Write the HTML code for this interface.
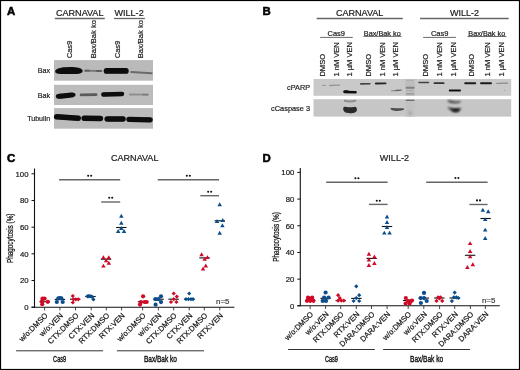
<!DOCTYPE html>
<html><head><meta charset="utf-8"><style>
html,body{margin:0;padding:0;background:#fff;}
text{stroke-width:0.2px;}
svg{display:block;font-family:"Liberation Sans", sans-serif;will-change:transform;}
</style></head><body>
<svg width="520" height="370" viewBox="0 0 520 370">
<defs><filter id="b0" filterUnits="userSpaceOnUse" x="0" y="0" width="520" height="370"><feGaussianBlur stdDeviation="0.0"/></filter><filter id="b1" filterUnits="userSpaceOnUse" x="0" y="0" width="520" height="370"><feGaussianBlur stdDeviation="0.1"/></filter><filter id="b2" filterUnits="userSpaceOnUse" x="0" y="0" width="520" height="370"><feGaussianBlur stdDeviation="0.2"/></filter><filter id="b3" filterUnits="userSpaceOnUse" x="0" y="0" width="520" height="370"><feGaussianBlur stdDeviation="0.3"/></filter><filter id="b4" filterUnits="userSpaceOnUse" x="0" y="0" width="520" height="370"><feGaussianBlur stdDeviation="0.4"/></filter><filter id="b5" filterUnits="userSpaceOnUse" x="0" y="0" width="520" height="370"><feGaussianBlur stdDeviation="0.5"/></filter><filter id="b6" filterUnits="userSpaceOnUse" x="0" y="0" width="520" height="370"><feGaussianBlur stdDeviation="0.6"/></filter><filter id="b7" filterUnits="userSpaceOnUse" x="0" y="0" width="520" height="370"><feGaussianBlur stdDeviation="0.7"/></filter><filter id="b8" filterUnits="userSpaceOnUse" x="0" y="0" width="520" height="370"><feGaussianBlur stdDeviation="0.8"/></filter><filter id="b9" filterUnits="userSpaceOnUse" x="0" y="0" width="520" height="370"><feGaussianBlur stdDeviation="0.9"/></filter><filter id="b10" filterUnits="userSpaceOnUse" x="0" y="0" width="520" height="370"><feGaussianBlur stdDeviation="1.0"/></filter><filter id="b11" filterUnits="userSpaceOnUse" x="0" y="0" width="520" height="370"><feGaussianBlur stdDeviation="1.1"/></filter><filter id="b12" filterUnits="userSpaceOnUse" x="0" y="0" width="520" height="370"><feGaussianBlur stdDeviation="1.2"/></filter><filter id="b13" filterUnits="userSpaceOnUse" x="0" y="0" width="520" height="370"><feGaussianBlur stdDeviation="1.3"/></filter><filter id="b14" filterUnits="userSpaceOnUse" x="0" y="0" width="520" height="370"><feGaussianBlur stdDeviation="1.4"/></filter><filter id="b15" filterUnits="userSpaceOnUse" x="0" y="0" width="520" height="370"><feGaussianBlur stdDeviation="1.5"/></filter><filter id="b16" filterUnits="userSpaceOnUse" x="0" y="0" width="520" height="370"><feGaussianBlur stdDeviation="1.6"/></filter><filter id="b17" filterUnits="userSpaceOnUse" x="0" y="0" width="520" height="370"><feGaussianBlur stdDeviation="1.7"/></filter><filter id="b18" filterUnits="userSpaceOnUse" x="0" y="0" width="520" height="370"><feGaussianBlur stdDeviation="1.8"/></filter><filter id="b19" filterUnits="userSpaceOnUse" x="0" y="0" width="520" height="370"><feGaussianBlur stdDeviation="1.9"/></filter><filter id="b20" filterUnits="userSpaceOnUse" x="0" y="0" width="520" height="370"><feGaussianBlur stdDeviation="2.0"/></filter></defs>
<rect x="0" y="0" width="520" height="370" fill="#fff"/>
<text x="6.9" y="14.9" font-size="11.4" text-anchor="start" fill="#000" stroke="#000" font-weight="bold" style="stroke-width:0.55px">A</text>
<text x="262.4" y="15.0" font-size="11.4" text-anchor="start" fill="#000" stroke="#000" font-weight="bold" style="stroke-width:0.55px">B</text>
<text x="6.9" y="161.6" font-size="11.4" text-anchor="start" fill="#000" stroke="#000" font-weight="bold" style="stroke-width:0.55px">C</text>
<text x="262.4" y="162.0" font-size="11.4" text-anchor="start" fill="#000" stroke="#000" font-weight="bold" style="stroke-width:0.55px">D</text>
<text x="56.0" y="15.8" font-size="9.05" text-anchor="start" fill="#1a1a1a" stroke="#1a1a1a" font-weight="normal" >CARNAVAL</text>
<line x1="54.8" y1="18.5" x2="104.8" y2="18.5" stroke="#666" stroke-width="1.3"/>
<text x="114.5" y="15.8" font-size="9.05" text-anchor="start" fill="#1a1a1a" stroke="#1a1a1a" font-weight="normal" >WILL-2</text>
<line x1="114.0" y1="18.5" x2="144.9" y2="18.5" stroke="#666" stroke-width="1.3"/>
<text x="0" y="0" font-size="7.55" text-anchor="start" fill="#1a1a1a" stroke="#1a1a1a" transform="translate(72.2,58.3) rotate(-90) scale(1.0,1)">Cas9</text>
<text x="0" y="0" font-size="7.55" text-anchor="start" fill="#1a1a1a" stroke="#1a1a1a" transform="translate(95.9,58.3) rotate(-90) scale(1.0,1)">Bax/Bak ko</text>
<text x="0" y="0" font-size="7.55" text-anchor="start" fill="#1a1a1a" stroke="#1a1a1a" transform="translate(119.6,58.3) rotate(-90) scale(1.0,1)">Cas9</text>
<text x="0" y="0" font-size="7.55" text-anchor="start" fill="#1a1a1a" stroke="#1a1a1a" transform="translate(142.9,58.3) rotate(-90) scale(1.0,1)">Bax/Bak ko</text>
<rect x="54" y="60.1" width="99" height="20.6" fill="#bababa"/>
<rect x="54" y="84.8" width="99" height="20.2" fill="#bcbcbc"/>
<rect x="54" y="108.1" width="99" height="20.6" fill="#bbbbbb"/>
<path d="M55.2 71.3C55.5 68.5 61 67.2 69 67.0C76 66.9 81.6 67.7 82.5 70.3C83.1 73.0 80.5 74.0 75 74.0L61 74.0C57 74.0 55.0 73.2 55.2 71.3Z" fill="#080808" opacity="1" filter="url(#b6)"/>
<line x1="85.0" y1="70.8" x2="101.5" y2="70.9" stroke="#7a7a7a" stroke-width="2.0" stroke-linecap="round" opacity="0.95" filter="url(#b6)"/>
<line x1="85.6" y1="70.7" x2="89.0" y2="70.7" stroke="#5a5a5a" stroke-width="1.8" stroke-linecap="round" opacity="0.9" filter="url(#b6)"/>
<line x1="96.6" y1="70.9" x2="101.0" y2="71.0" stroke="#5a5a5a" stroke-width="1.8" stroke-linecap="round" opacity="0.9" filter="url(#b6)"/>
<line x1="106.6" y1="70.9" x2="125.8" y2="70.9" stroke="#080808" stroke-width="5.8" stroke-linecap="round" opacity="1" filter="url(#b6)"/>
<line x1="131.2" y1="72.0" x2="151.6" y2="73.2" stroke="#666" stroke-width="2.0" stroke-linecap="round" opacity="0.95" filter="url(#b6)"/>
<path d="M55.8 96.3C55.8 94.2 58 93.6 62 93.4L71 92.6C74.5 92.4 75.5 93.4 75.5 94.8C75.5 96.8 73 97.4 70 97.8L61 98.8C57.5 99.1 55.8 98.2 55.8 96.3Z" fill="#080808" opacity="1" filter="url(#b6)"/>
<line x1="81.0" y1="94.9" x2="96.2" y2="94.6" stroke="#555" stroke-width="2.6" stroke-linecap="round" opacity="0.95" filter="url(#b6)"/>
<line x1="103.4" y1="94.6" x2="122.0" y2="93.9" stroke="#080808" stroke-width="4.5" stroke-linecap="round" opacity="1" filter="url(#b6)"/>
<line x1="129.8" y1="94.5" x2="148.2" y2="94.6" stroke="#8a8a8a" stroke-width="1.8" stroke-linecap="round" opacity="0.9" filter="url(#b6)"/>
<line x1="143.0" y1="94.6" x2="147.5" y2="94.6" stroke="#777" stroke-width="1.6" stroke-linecap="round" opacity="0.8" filter="url(#b6)"/>
<line x1="56.6" y1="116.8" x2="78.2" y2="118.3" stroke="#080808" stroke-width="5.5" stroke-linecap="round" opacity="1" filter="url(#b6)"/>
<line x1="84.2" y1="118.3" x2="100.4" y2="118.5" stroke="#080808" stroke-width="5.5" stroke-linecap="round" opacity="1" filter="url(#b6)"/>
<line x1="107.2" y1="118.9" x2="123.0" y2="119.0" stroke="#080808" stroke-width="5.5" stroke-linecap="round" opacity="1" filter="url(#b6)"/>
<line x1="129.0" y1="119.3" x2="150.1" y2="119.8" stroke="#080808" stroke-width="5.3" stroke-linecap="round" opacity="1" filter="url(#b6)"/>
<text x="0" y="0" font-size="8.0" text-anchor="end" fill="#1a1a1a" stroke="#1a1a1a" font-weight="normal" transform="translate(50.2,73.2) scale(0.9,1)" >Bax</text>
<text x="0" y="0" font-size="8.0" text-anchor="end" fill="#1a1a1a" stroke="#1a1a1a" font-weight="normal" transform="translate(50.2,97.8) scale(0.9,1)" >Bak</text>
<text x="0" y="0" font-size="8.0" text-anchor="end" fill="#1a1a1a" stroke="#1a1a1a" font-weight="normal" transform="translate(50.2,120.8) scale(0.89,1)" >Tubulin</text>
<text x="335.9" y="15.7" font-size="9.05" text-anchor="start" fill="#1a1a1a" stroke="#1a1a1a" font-weight="normal" >CARNAVAL</text>
<line x1="316.7" y1="18.5" x2="402.8" y2="18.5" stroke="#666" stroke-width="1.3"/>
<text x="449.9" y="15.7" font-size="9.05" text-anchor="start" fill="#1a1a1a" stroke="#1a1a1a" font-weight="normal" >WILL-2</text>
<line x1="420.1" y1="18.5" x2="508.7" y2="18.5" stroke="#666" stroke-width="1.3"/>
<text x="327.5" y="36.0" font-size="7.5" text-anchor="start" fill="#1a1a1a" stroke="#1a1a1a" font-weight="normal" >Cas9</text>
<line x1="320.1" y1="37.4" x2="352.8" y2="37.4" stroke="#444" stroke-width="0.8"/>
<text x="363.8" y="35.6" font-size="7.3" text-anchor="start" fill="#1a1a1a" stroke="#1a1a1a" font-weight="normal" >Bax/Bak ko</text>
<line x1="363.4" y1="36.4" x2="401.6" y2="36.4" stroke="#444" stroke-width="0.8"/>
<text x="430.9" y="36.0" font-size="7.5" text-anchor="start" fill="#1a1a1a" stroke="#1a1a1a" font-weight="normal" >Cas9</text>
<line x1="423.1" y1="37.4" x2="456.0" y2="37.4" stroke="#444" stroke-width="0.8"/>
<text x="468.3" y="35.6" font-size="7.3" text-anchor="start" fill="#1a1a1a" stroke="#1a1a1a" font-weight="normal" >Bax/Bak ko</text>
<line x1="467.5" y1="36.5" x2="506.5" y2="36.5" stroke="#444" stroke-width="0.8"/>
<text x="0" y="0" font-size="7.55" text-anchor="start" fill="#1a1a1a" stroke="#1a1a1a" transform="translate(325.2,76.6) rotate(-90) scale(1.0,1)">DMSO</text>
<text x="0" y="0" font-size="7.55" text-anchor="start" fill="#1a1a1a" stroke="#1a1a1a" transform="translate(339.1,76.6) rotate(-90) scale(1.0,1)">1 nM VEN</text>
<text x="0" y="0" font-size="7.55" text-anchor="start" fill="#1a1a1a" stroke="#1a1a1a" transform="translate(352.4,76.6) rotate(-90) scale(1.0,1)">1 µM VEN</text>
<text x="0" y="0" font-size="7.55" text-anchor="start" fill="#1a1a1a" stroke="#1a1a1a" transform="translate(371.3,76.6) rotate(-90) scale(1.0,1)">DMSO</text>
<text x="0" y="0" font-size="7.55" text-anchor="start" fill="#1a1a1a" stroke="#1a1a1a" transform="translate(385.0,76.6) rotate(-90) scale(1.0,1)">1 nM VEN</text>
<text x="0" y="0" font-size="7.55" text-anchor="start" fill="#1a1a1a" stroke="#1a1a1a" transform="translate(398.0,76.6) rotate(-90) scale(1.0,1)">1 µM VEN</text>
<text x="0" y="0" font-size="7.55" text-anchor="start" fill="#1a1a1a" stroke="#1a1a1a" transform="translate(427.5,76.6) rotate(-90) scale(1.0,1)">DMSO</text>
<text x="0" y="0" font-size="7.55" text-anchor="start" fill="#1a1a1a" stroke="#1a1a1a" transform="translate(442.3,76.6) rotate(-90) scale(1.0,1)">1 nM VEN</text>
<text x="0" y="0" font-size="7.55" text-anchor="start" fill="#1a1a1a" stroke="#1a1a1a" transform="translate(456.0,76.6) rotate(-90) scale(1.0,1)">1 µM VEN</text>
<text x="0" y="0" font-size="7.55" text-anchor="start" fill="#1a1a1a" stroke="#1a1a1a" transform="translate(474.3,76.6) rotate(-90) scale(1.0,1)">DMSO</text>
<text x="0" y="0" font-size="7.55" text-anchor="start" fill="#1a1a1a" stroke="#1a1a1a" transform="translate(489.7,76.6) rotate(-90) scale(1.0,1)">1 nM VEN</text>
<text x="0" y="0" font-size="7.55" text-anchor="start" fill="#1a1a1a" stroke="#1a1a1a" transform="translate(504.0,76.6) rotate(-90) scale(1.0,1)">1 µM VEN</text>
<rect x="313.5" y="79.0" width="197.7" height="16.8" fill="#c9c9c9"/>
<rect x="313.5" y="99.2" width="197.7" height="17.4" fill="#c6c6c6"/>
<rect x="405.5" y="79.0" width="9.2" height="16.8" fill="#bebebe"/>
<rect x="405.5" y="99.2" width="9.2" height="17.4" fill="#c2c2c2"/>
<line x1="406.8" y1="80.6" x2="413.4" y2="80.6" stroke="#aaa" stroke-width="1.0" stroke-linecap="round" opacity="0.8" filter="url(#b6)"/>
<line x1="406.6" y1="87.8" x2="413.6" y2="87.8" stroke="#7a7a7a" stroke-width="2.0" stroke-linecap="round" opacity="0.9" filter="url(#b7)"/>
<line x1="406.8" y1="90.6" x2="413.4" y2="90.6" stroke="#aaa" stroke-width="1.4" stroke-linecap="round" opacity="0.8" filter="url(#b7)"/>
<line x1="406.6" y1="93.9" x2="413.6" y2="93.9" stroke="#999" stroke-width="1.6" stroke-linecap="round" opacity="0.8" filter="url(#b7)"/>
<line x1="406.4" y1="100.4" x2="413.8" y2="100.4" stroke="#666" stroke-width="1.4" stroke-linecap="round" opacity="0.9" filter="url(#b6)"/>
<line x1="409.8" y1="112.6" x2="410.2" y2="113.6" stroke="#a0a0a0" stroke-width="3.2" stroke-linecap="round" opacity="0.8" filter="url(#b9)"/>
<line x1="322.8" y1="85.4" x2="325.4" y2="85.4" stroke="#888" stroke-width="1.2" stroke-linecap="round" opacity="0.7" filter="url(#b6)"/>
<line x1="329.8" y1="85.5" x2="339.6" y2="85.1" stroke="#8a8a8a" stroke-width="1.3" stroke-linecap="round" opacity="0.8" filter="url(#b6)"/>
<line x1="344.6" y1="92.0" x2="355.6" y2="92.2" stroke="#111" stroke-width="2.4" stroke-linecap="round" opacity="1" filter="url(#b5)"/>
<line x1="344.8" y1="91.6" x2="347.5" y2="91.6" stroke="#111" stroke-width="2.8" stroke-linecap="round" opacity="1" filter="url(#b5)"/>
<line x1="360.8" y1="83.9" x2="369.9" y2="83.7" stroke="#3a3a3a" stroke-width="1.6" stroke-linecap="round" opacity="0.95" filter="url(#b6)"/>
<line x1="375.8" y1="83.5" x2="385.6" y2="83.3" stroke="#1e1e1e" stroke-width="1.8" stroke-linecap="round" opacity="0.95" filter="url(#b6)"/>
<line x1="391.5" y1="90.8" x2="395.5" y2="90.6" stroke="#777" stroke-width="1.1" stroke-linecap="round" opacity="0.8" filter="url(#b6)"/>
<line x1="396.0" y1="90.5" x2="401.2" y2="90.1" stroke="#555" stroke-width="1.3" stroke-linecap="round" opacity="0.85" filter="url(#b6)"/>
<line x1="419.0" y1="82.5" x2="428.5" y2="82.5" stroke="#3a3a3a" stroke-width="1.5" stroke-linecap="round" opacity="0.95" filter="url(#b6)"/>
<line x1="434.5" y1="83.2" x2="443.6" y2="83.2" stroke="#2a2a2a" stroke-width="1.8" stroke-linecap="round" opacity="0.95" filter="url(#b6)"/>
<line x1="449.8" y1="90.5" x2="460.0" y2="90.6" stroke="#111" stroke-width="2.0" stroke-linecap="round" opacity="1" filter="url(#b5)"/>
<line x1="465.2" y1="83.3" x2="475.2" y2="83.3" stroke="#1e1e1e" stroke-width="2.0" stroke-linecap="round" opacity="1" filter="url(#b6)"/>
<line x1="481.0" y1="83.3" x2="491.0" y2="83.3" stroke="#1e1e1e" stroke-width="2.0" stroke-linecap="round" opacity="1" filter="url(#b6)"/>
<line x1="496.8" y1="83.4" x2="507.5" y2="83.2" stroke="#808080" stroke-width="1.3" stroke-linecap="round" opacity="0.85" filter="url(#b6)"/>
<line x1="504.6" y1="90.6" x2="505.0" y2="90.6" stroke="#888" stroke-width="1.0" stroke-linecap="round" opacity="0.7" filter="url(#b6)"/>
<path d="M344.8 100.8Q350 102.2 355.2 100.8" fill="none" stroke="#8e8e8e" stroke-width="2.1" stroke-linecap="round" filter="url(#b7)"/>
<path d="M343.2 108.6C343.2 106.9 344.5 106.6 346.5 106.9C349 107.3 351.5 107.3 354 106.9C356 106.6 356.9 107.6 356.9 109.5C356.9 112.1 355 113.3 350 113.3C345 113.3 343.2 111.6 343.2 108.6Z" fill="#2a2a2a" opacity="1" filter="url(#b6)"/>
<path d="M390.4 108.2C392 107.6 396 108.4 400 108.2C402.5 108.0 404.3 108.3 404.3 109.1C404.3 110.3 401 110.8 397.5 110.9C394 111.0 390.4 110.0 390.4 108.2Z" fill="#4e4e4e" opacity="1" filter="url(#b6)"/>
<path d="M447.5 100.4C450 100.0 452 101.5 455 101.6C458 101.6 460.5 100.8 460.8 101.5C461 102.9 458 103.3 455 103.2C451 103.1 448 102.2 447.5 100.4Z" fill="#2a2a2a" opacity="1" filter="url(#b10)"/>
<path d="M447.2 107.3C449.5 106.9 452 108.2 455 108.4C458 108.4 460.5 107.7 461 108.5C461 110.2 458.5 111.7 455.5 112.0C452.5 112.1 450.5 110.2 447.2 107.3Z" fill="#2e2e2e" opacity="1" filter="url(#b10)"/>
<line x1="453.4" y1="110.4" x2="457.4" y2="110.5" stroke="#101010" stroke-width="2.4" stroke-linecap="round" opacity="1" filter="url(#b9)"/>
<text x="0" y="0" font-size="7.7" text-anchor="end" fill="#1a1a1a" stroke="#1a1a1a" font-weight="normal" transform="translate(310.1,90.3) scale(0.95,1)" >cPARP</text>
<text x="0" y="0" font-size="7.8" text-anchor="end" fill="#1a1a1a" stroke="#1a1a1a" font-weight="normal" transform="translate(310.1,111.0) scale(0.95,1)" >cCaspase 3</text>
<line x1="34.5" y1="168.5" x2="34.5" y2="307.7" stroke="#111" stroke-width="1.1"/>
<line x1="31.5" y1="307.2" x2="234.4" y2="307.2" stroke="#111" stroke-width="1.1"/>
<line x1="31.5" y1="307.2" x2="34.5" y2="307.2" stroke="#111" stroke-width="1"/>
<text x="28.5" y="309.95" font-size="7.75" text-anchor="end" fill="#1a1a1a" stroke="#1a1a1a" font-weight="normal" >0</text>
<line x1="31.5" y1="280.52" x2="34.5" y2="280.52" stroke="#111" stroke-width="1"/>
<text x="28.5" y="283.27" font-size="7.75" text-anchor="end" fill="#1a1a1a" stroke="#1a1a1a" font-weight="normal" >20</text>
<line x1="31.5" y1="253.83999999999997" x2="34.5" y2="253.83999999999997" stroke="#111" stroke-width="1"/>
<text x="28.5" y="256.59" font-size="7.75" text-anchor="end" fill="#1a1a1a" stroke="#1a1a1a" font-weight="normal" >40</text>
<line x1="31.5" y1="227.15999999999997" x2="34.5" y2="227.15999999999997" stroke="#111" stroke-width="1"/>
<text x="28.5" y="229.90999999999997" font-size="7.75" text-anchor="end" fill="#1a1a1a" stroke="#1a1a1a" font-weight="normal" >60</text>
<line x1="31.5" y1="200.48" x2="34.5" y2="200.48" stroke="#111" stroke-width="1"/>
<text x="28.5" y="203.23" font-size="7.75" text-anchor="end" fill="#1a1a1a" stroke="#1a1a1a" font-weight="normal" >80</text>
<line x1="31.5" y1="173.79999999999998" x2="34.5" y2="173.79999999999998" stroke="#111" stroke-width="1"/>
<text x="28.5" y="176.54999999999998" font-size="7.75" text-anchor="end" fill="#1a1a1a" stroke="#1a1a1a" font-weight="normal" >100</text>
<text x="0" y="0" font-size="8.8" text-anchor="middle" fill="#111" stroke="#111" style="stroke-width:0.25px" transform="translate(13.3,238.29999999999998) rotate(-90) scale(0.725,1)">Phagocytosis (%)</text>
<text x="111.0" y="161.4" font-size="9.05" text-anchor="start" fill="#1a1a1a" stroke="#1a1a1a" font-weight="normal" >CARNAVAL</text>
<line x1="44.6" y1="307.2" x2="44.6" y2="310.4" stroke="#333" stroke-width="0.9"/>
<text x="0" y="0" font-size="7.6" text-anchor="end" fill="#111" stroke="#111" transform="translate(48.2,316.09999999999997) rotate(-45) scale(1.0,1)">w/o:DMSO</text>
<line x1="59.9" y1="307.2" x2="59.9" y2="310.4" stroke="#333" stroke-width="0.9"/>
<text x="0" y="0" font-size="7.6" text-anchor="end" fill="#111" stroke="#111" transform="translate(63.5,316.09999999999997) rotate(-45) scale(1.0,1)">w/o:VEN</text>
<line x1="75.5" y1="307.2" x2="75.5" y2="310.4" stroke="#333" stroke-width="0.9"/>
<text x="0" y="0" font-size="7.6" text-anchor="end" fill="#111" stroke="#111" transform="translate(79.1,316.09999999999997) rotate(-45) scale(1.0,1)">CTX:DMSO</text>
<line x1="91.2" y1="307.2" x2="91.2" y2="310.4" stroke="#333" stroke-width="0.9"/>
<text x="0" y="0" font-size="7.6" text-anchor="end" fill="#111" stroke="#111" transform="translate(94.8,316.09999999999997) rotate(-45) scale(1.0,1)">CTX:VEN</text>
<line x1="106.3" y1="307.2" x2="106.3" y2="310.4" stroke="#333" stroke-width="0.9"/>
<text x="0" y="0" font-size="7.6" text-anchor="end" fill="#111" stroke="#111" transform="translate(109.89999999999999,316.09999999999997) rotate(-45) scale(1.0,1)">RTX:DMSO</text>
<line x1="121.6" y1="307.2" x2="121.6" y2="310.4" stroke="#333" stroke-width="0.9"/>
<text x="0" y="0" font-size="7.6" text-anchor="end" fill="#111" stroke="#111" transform="translate(125.19999999999999,316.09999999999997) rotate(-45) scale(1.0,1)">RTX:VEN</text>
<line x1="142.6" y1="307.2" x2="142.6" y2="310.4" stroke="#333" stroke-width="0.9"/>
<text x="0" y="0" font-size="7.6" text-anchor="end" fill="#111" stroke="#111" transform="translate(146.2,316.09999999999997) rotate(-45) scale(1.0,1)">w/o:DMSO</text>
<line x1="158.4" y1="307.2" x2="158.4" y2="310.4" stroke="#333" stroke-width="0.9"/>
<text x="0" y="0" font-size="7.6" text-anchor="end" fill="#111" stroke="#111" transform="translate(162.0,316.09999999999997) rotate(-45) scale(1.0,1)">w/o:VEN</text>
<line x1="173.7" y1="307.2" x2="173.7" y2="310.4" stroke="#333" stroke-width="0.9"/>
<text x="0" y="0" font-size="7.6" text-anchor="end" fill="#111" stroke="#111" transform="translate(177.29999999999998,316.09999999999997) rotate(-45) scale(1.0,1)">CTX:DMSO</text>
<line x1="189.2" y1="307.2" x2="189.2" y2="310.4" stroke="#333" stroke-width="0.9"/>
<text x="0" y="0" font-size="7.6" text-anchor="end" fill="#111" stroke="#111" transform="translate(192.79999999999998,316.09999999999997) rotate(-45) scale(1.0,1)">CTX:VEN</text>
<line x1="204.3" y1="307.2" x2="204.3" y2="310.4" stroke="#333" stroke-width="0.9"/>
<text x="0" y="0" font-size="7.6" text-anchor="end" fill="#111" stroke="#111" transform="translate(207.9,316.09999999999997) rotate(-45) scale(1.0,1)">RTX:DMSO</text>
<line x1="219.8" y1="307.2" x2="219.8" y2="310.4" stroke="#333" stroke-width="0.9"/>
<text x="0" y="0" font-size="7.6" text-anchor="end" fill="#111" stroke="#111" transform="translate(223.4,316.09999999999997) rotate(-45) scale(1.0,1)">RTX:VEN</text>
<line x1="16.1" y1="350.8" x2="103.1" y2="350.8" stroke="#333" stroke-width="1"/>
<text x="0" y="0" font-size="9.2" text-anchor="middle" fill="#111" stroke="#111" style="stroke-width:0.4px" transform="translate(59.599999999999994,361.7) scale(0.605,1)">Cas9</text>
<line x1="116.9" y1="350.8" x2="204.0" y2="350.8" stroke="#333" stroke-width="1"/>
<text x="0" y="0" font-size="9.2" text-anchor="middle" fill="#111" stroke="#111" style="stroke-width:0.4px" transform="translate(160.45,361.7) scale(0.711,1)">Bax/Bak ko</text>
<line x1="59.1" y1="179.8" x2="120.2" y2="179.8" stroke="#666" stroke-width="1.4"/>
<circle cx="88.15" cy="175.7" r="1.05" fill="#111"/><circle cx="91.15" cy="175.7" r="1.05" fill="#111"/>
<line x1="101.2" y1="202.0" x2="120.2" y2="202.0" stroke="#666" stroke-width="1.4"/>
<circle cx="109.2" cy="197.8" r="1.05" fill="#111"/><circle cx="112.2" cy="197.8" r="1.05" fill="#111"/>
<line x1="157.7" y1="179.8" x2="219.0" y2="179.8" stroke="#666" stroke-width="1.4"/>
<circle cx="186.85" cy="175.7" r="1.05" fill="#111"/><circle cx="189.85" cy="175.7" r="1.05" fill="#111"/>
<line x1="200.3" y1="195.7" x2="219.0" y2="195.7" stroke="#666" stroke-width="1.4"/>
<circle cx="208.15" cy="191.8" r="1.05" fill="#111"/><circle cx="211.15" cy="191.8" r="1.05" fill="#111"/>
<text x="216.1" y="303.5" font-size="7.9" text-anchor="start" fill="#3c3c3c" stroke="#3c3c3c" font-weight="normal" >n=5</text>
<line x1="39.4" y1="301.8" x2="49.800000000000004" y2="301.8" stroke="#111" stroke-width="1.1"/>
<circle cx="42.5" cy="298.5" r="2.1" fill="#cf0a26"/>
<circle cx="44.6" cy="298.6" r="2.1" fill="#cf0a26"/>
<circle cx="42.0" cy="301.3" r="2.1" fill="#cf0a26"/>
<circle cx="47.8" cy="301.8" r="2.1" fill="#cf0a26"/>
<circle cx="42.2" cy="304.2" r="2.1" fill="#cf0a26"/>
<line x1="54.699999999999996" y1="299.4" x2="65.1" y2="299.4" stroke="#111" stroke-width="1.1"/>
<circle cx="58.3" cy="298.4" r="2.1" fill="#0c4c8a"/>
<circle cx="61.4" cy="298.4" r="2.1" fill="#0c4c8a"/>
<circle cx="56.8" cy="302.0" r="2.1" fill="#0c4c8a"/>
<circle cx="62.7" cy="302.0" r="2.1" fill="#0c4c8a"/>
<circle cx="59.9" cy="298.2" r="2.1" fill="#0c4c8a"/>
<line x1="70.0" y1="299.2" x2="80.4" y2="299.2" stroke="#111" stroke-width="1.1"/>
<path d="M72.8 293.9L74.89999999999999 296.0L72.8 298.1L70.7 296.0Z" fill="#cf0a26"/>
<path d="M72.8 300.4L74.89999999999999 302.5L72.8 304.6L70.7 302.5Z" fill="#cf0a26"/>
<path d="M78.3 297.2L80.39999999999999 299.3L78.3 301.40000000000003L76.2 299.3Z" fill="#cf0a26"/>
<path d="M75.8 297.2L77.89999999999999 299.3L75.8 301.40000000000003L73.7 299.3Z" fill="#cf0a26"/>
<path d="M73.5 297.2L75.6 299.3L73.5 301.40000000000003L71.4 299.3Z" fill="#cf0a26"/>
<line x1="85.3" y1="296.5" x2="95.7" y2="296.5" stroke="#111" stroke-width="1.1"/>
<path d="M87.4 294.2L89.5 296.3L87.4 298.40000000000003L85.30000000000001 296.3Z" fill="#0c4c8a"/>
<path d="M88.6 294.09999999999997L90.69999999999999 296.2L88.6 298.3L86.5 296.2Z" fill="#0c4c8a"/>
<path d="M89.8 294.09999999999997L91.89999999999999 296.2L89.8 298.3L87.7 296.2Z" fill="#0c4c8a"/>
<path d="M91.0 294.29999999999995L93.1 296.4L91.0 298.5L88.9 296.4Z" fill="#0c4c8a"/>
<path d="M92.2 294.79999999999995L94.3 296.9L92.2 299.0L90.10000000000001 296.9Z" fill="#0c4c8a"/>
<path d="M93.4 297.29999999999995L95.5 299.4L93.4 301.5L91.30000000000001 299.4Z" fill="#0c4c8a"/>
<line x1="100.8" y1="259.2" x2="111.2" y2="259.2" stroke="#111" stroke-width="1.1"/>
<path d="M103.4 255.15L105.65 259.1L101.15 259.1Z" fill="#cf0a26"/>
<path d="M108.8 255.15L111.05 259.1L106.55 259.1Z" fill="#cf0a26"/>
<path d="M106.1 258.34999999999997L108.35 262.3L103.85 262.3Z" fill="#cf0a26"/>
<path d="M108.8 260.75L111.05 264.70000000000005L106.55 264.70000000000005Z" fill="#cf0a26"/>
<path d="M103.4 263.65L105.65 267.6L101.15 267.6Z" fill="#cf0a26"/>
<line x1="116.1" y1="227.5" x2="126.5" y2="227.5" stroke="#111" stroke-width="1.1"/>
<path d="M121.3 213.85L123.55 217.79999999999998L119.05 217.79999999999998Z" fill="#0c4c8a"/>
<path d="M121.3 220.85L123.55 224.79999999999998L119.05 224.79999999999998Z" fill="#0c4c8a"/>
<path d="M121.3 225.95000000000002L123.55 229.9L119.05 229.9Z" fill="#0c4c8a"/>
<path d="M118.2 229.05L120.45 233.0L115.95 233.0Z" fill="#0c4c8a"/>
<path d="M124.0 229.05L126.25 233.0L121.75 233.0Z" fill="#0c4c8a"/>
<line x1="137.8" y1="301.8" x2="148.2" y2="301.8" stroke="#111" stroke-width="1.1"/>
<circle cx="143.1" cy="296.3" r="2.1" fill="#cf0a26"/>
<circle cx="141.0" cy="302.0" r="2.1" fill="#cf0a26"/>
<circle cx="144.7" cy="302.0" r="2.1" fill="#cf0a26"/>
<circle cx="146.6" cy="302.0" r="2.1" fill="#cf0a26"/>
<circle cx="140.0" cy="304.6" r="2.1" fill="#cf0a26"/>
<line x1="153.4" y1="299.2" x2="163.79999999999998" y2="299.2" stroke="#111" stroke-width="1.1"/>
<circle cx="161.0" cy="296.3" r="2.1" fill="#0c4c8a"/>
<circle cx="155.4" cy="299.2" r="2.1" fill="#0c4c8a"/>
<circle cx="158.3" cy="299.2" r="2.1" fill="#0c4c8a"/>
<circle cx="161.0" cy="302.1" r="2.1" fill="#0c4c8a"/>
<circle cx="155.6" cy="304.7" r="2.1" fill="#0c4c8a"/>
<line x1="168.4" y1="299.2" x2="178.79999999999998" y2="299.2" stroke="#111" stroke-width="1.1"/>
<path d="M173.7 291.4L175.79999999999998 293.5L173.7 295.6L171.6 293.5Z" fill="#cf0a26"/>
<path d="M176.8 294.5L178.9 296.6L176.8 298.70000000000005L174.70000000000002 296.6Z" fill="#cf0a26"/>
<path d="M173.7 297.09999999999997L175.79999999999998 299.2L173.7 301.3L171.6 299.2Z" fill="#cf0a26"/>
<path d="M171.0 299.9L173.1 302.0L171.0 304.1L168.9 302.0Z" fill="#cf0a26"/>
<path d="M176.4 299.9L178.5 302.0L176.4 304.1L174.3 302.0Z" fill="#cf0a26"/>
<line x1="184.0" y1="299.2" x2="194.39999999999998" y2="299.2" stroke="#111" stroke-width="1.1"/>
<path d="M189.2 291.4L191.29999999999998 293.5L189.2 295.6L187.1 293.5Z" fill="#0c4c8a"/>
<path d="M186.0 297.09999999999997L188.1 299.2L186.0 301.3L183.9 299.2Z" fill="#0c4c8a"/>
<path d="M188.5 297.09999999999997L190.6 299.2L188.5 301.3L186.4 299.2Z" fill="#0c4c8a"/>
<path d="M191.0 297.09999999999997L193.1 299.2L191.0 301.3L188.9 299.2Z" fill="#0c4c8a"/>
<path d="M193.0 297.09999999999997L195.1 299.2L193.0 301.3L190.9 299.2Z" fill="#0c4c8a"/>
<line x1="199.3" y1="257.9" x2="209.7" y2="257.9" stroke="#111" stroke-width="1.1"/>
<path d="M201.6 252.35L203.85 256.3L199.35 256.3Z" fill="#cf0a26"/>
<path d="M204.7 256.75L206.95 260.70000000000005L202.45 260.70000000000005Z" fill="#cf0a26"/>
<path d="M207.4 255.15L209.65 259.1L205.15 259.1Z" fill="#cf0a26"/>
<path d="M205.8 263.45L208.05 267.40000000000003L203.55 267.40000000000003Z" fill="#cf0a26"/>
<path d="M203.0 266.45L205.25 270.40000000000003L200.75 270.40000000000003Z" fill="#cf0a26"/>
<line x1="214.60000000000002" y1="220.8" x2="225.0" y2="220.8" stroke="#111" stroke-width="1.1"/>
<path d="M219.7 202.35L221.95 206.29999999999998L217.45 206.29999999999998Z" fill="#0c4c8a"/>
<path d="M217.0 219.05L219.25 223.0L214.75 223.0Z" fill="#0c4c8a"/>
<path d="M222.7 217.95000000000002L224.95 221.9L220.45 221.9Z" fill="#0c4c8a"/>
<path d="M222.4 223.35L224.65 227.29999999999998L220.15 227.29999999999998Z" fill="#0c4c8a"/>
<path d="M219.7 230.75L221.95 234.7L217.45 234.7Z" fill="#0c4c8a"/>
<line x1="300.3" y1="168.0" x2="300.3" y2="306.3" stroke="#111" stroke-width="1.1"/>
<line x1="297.3" y1="305.8" x2="499.8" y2="305.8" stroke="#111" stroke-width="1.1"/>
<line x1="297.3" y1="305.8" x2="300.3" y2="305.8" stroke="#111" stroke-width="1"/>
<text x="294.3" y="308.55" font-size="7.75" text-anchor="end" fill="#1a1a1a" stroke="#1a1a1a" font-weight="normal" >0</text>
<line x1="297.3" y1="279.12" x2="300.3" y2="279.12" stroke="#111" stroke-width="1"/>
<text x="294.3" y="281.87" font-size="7.75" text-anchor="end" fill="#1a1a1a" stroke="#1a1a1a" font-weight="normal" >20</text>
<line x1="297.3" y1="252.44" x2="300.3" y2="252.44" stroke="#111" stroke-width="1"/>
<text x="294.3" y="255.19" font-size="7.75" text-anchor="end" fill="#1a1a1a" stroke="#1a1a1a" font-weight="normal" >40</text>
<line x1="297.3" y1="225.76" x2="300.3" y2="225.76" stroke="#111" stroke-width="1"/>
<text x="294.3" y="228.51" font-size="7.75" text-anchor="end" fill="#1a1a1a" stroke="#1a1a1a" font-weight="normal" >60</text>
<line x1="297.3" y1="199.08" x2="300.3" y2="199.08" stroke="#111" stroke-width="1"/>
<text x="294.3" y="201.83" font-size="7.75" text-anchor="end" fill="#1a1a1a" stroke="#1a1a1a" font-weight="normal" >80</text>
<line x1="297.3" y1="172.4" x2="300.3" y2="172.4" stroke="#111" stroke-width="1"/>
<text x="294.3" y="175.15" font-size="7.75" text-anchor="end" fill="#1a1a1a" stroke="#1a1a1a" font-weight="normal" >100</text>
<text x="0" y="0" font-size="8.8" text-anchor="middle" fill="#111" stroke="#111" style="stroke-width:0.25px" transform="translate(278.6,236.9) rotate(-90) scale(0.725,1)">Phagocytosis (%)</text>
<text x="379.8" y="161.2" font-size="9.05" text-anchor="start" fill="#1a1a1a" stroke="#1a1a1a" font-weight="normal" >WILL-2</text>
<line x1="310.2" y1="305.8" x2="310.2" y2="309.0" stroke="#333" stroke-width="0.9"/>
<text x="0" y="0" font-size="7.6" text-anchor="end" fill="#111" stroke="#111" transform="translate(313.8,314.7) rotate(-45) scale(1.0,1)">w/o:DMSO</text>
<line x1="325.6" y1="305.8" x2="325.6" y2="309.0" stroke="#333" stroke-width="0.9"/>
<text x="0" y="0" font-size="7.6" text-anchor="end" fill="#111" stroke="#111" transform="translate(329.20000000000005,314.7) rotate(-45) scale(1.0,1)">w/o:VEN</text>
<line x1="340.7" y1="305.8" x2="340.7" y2="309.0" stroke="#333" stroke-width="0.9"/>
<text x="0" y="0" font-size="7.6" text-anchor="end" fill="#111" stroke="#111" transform="translate(344.3,314.7) rotate(-45) scale(1.0,1)">RTX:DMSO</text>
<line x1="356.3" y1="305.8" x2="356.3" y2="309.0" stroke="#333" stroke-width="0.9"/>
<text x="0" y="0" font-size="7.6" text-anchor="end" fill="#111" stroke="#111" transform="translate(359.90000000000003,314.7) rotate(-45) scale(1.0,1)">RTX:VEN</text>
<line x1="371.5" y1="305.8" x2="371.5" y2="309.0" stroke="#333" stroke-width="0.9"/>
<text x="0" y="0" font-size="7.6" text-anchor="end" fill="#111" stroke="#111" transform="translate(375.1,314.7) rotate(-45) scale(1.0,1)">DARA:DMSO</text>
<line x1="387.1" y1="305.8" x2="387.1" y2="309.0" stroke="#333" stroke-width="0.9"/>
<text x="0" y="0" font-size="7.6" text-anchor="end" fill="#111" stroke="#111" transform="translate(390.70000000000005,314.7) rotate(-45) scale(1.0,1)">DARA:VEN</text>
<line x1="408.2" y1="305.8" x2="408.2" y2="309.0" stroke="#333" stroke-width="0.9"/>
<text x="0" y="0" font-size="7.6" text-anchor="end" fill="#111" stroke="#111" transform="translate(411.8,314.7) rotate(-45) scale(1.0,1)">w/o:DMSO</text>
<line x1="423.8" y1="305.8" x2="423.8" y2="309.0" stroke="#333" stroke-width="0.9"/>
<text x="0" y="0" font-size="7.6" text-anchor="end" fill="#111" stroke="#111" transform="translate(427.40000000000003,314.7) rotate(-45) scale(1.0,1)">w/o:VEN</text>
<line x1="439.6" y1="305.8" x2="439.6" y2="309.0" stroke="#333" stroke-width="0.9"/>
<text x="0" y="0" font-size="7.6" text-anchor="end" fill="#111" stroke="#111" transform="translate(443.20000000000005,314.7) rotate(-45) scale(1.0,1)">RTX:DMSO</text>
<line x1="454.7" y1="305.8" x2="454.7" y2="309.0" stroke="#333" stroke-width="0.9"/>
<text x="0" y="0" font-size="7.6" text-anchor="end" fill="#111" stroke="#111" transform="translate(458.3,314.7) rotate(-45) scale(1.0,1)">RTX:VEN</text>
<line x1="470.4" y1="305.8" x2="470.4" y2="309.0" stroke="#333" stroke-width="0.9"/>
<text x="0" y="0" font-size="7.6" text-anchor="end" fill="#111" stroke="#111" transform="translate(474.0,314.7) rotate(-45) scale(1.0,1)">DARA:DMSO</text>
<line x1="485.4" y1="305.8" x2="485.4" y2="309.0" stroke="#333" stroke-width="0.9"/>
<text x="0" y="0" font-size="7.6" text-anchor="end" fill="#111" stroke="#111" transform="translate(489.0,314.7) rotate(-45) scale(1.0,1)">DARA:VEN</text>
<line x1="288.1" y1="349.5" x2="374.8" y2="349.5" stroke="#333" stroke-width="1"/>
<text x="0" y="0" font-size="9.2" text-anchor="middle" fill="#111" stroke="#111" style="stroke-width:0.4px" transform="translate(331.45000000000005,361.7) scale(0.605,1)">Cas9</text>
<line x1="383.1" y1="349.5" x2="470.0" y2="349.5" stroke="#333" stroke-width="1"/>
<text x="0" y="0" font-size="9.2" text-anchor="middle" fill="#111" stroke="#111" style="stroke-width:0.4px" transform="translate(426.55,361.7) scale(0.711,1)">Bax/Bak ko</text>
<line x1="326.2" y1="182.3" x2="387.6" y2="182.3" stroke="#666" stroke-width="1.4"/>
<circle cx="355.4" cy="178.2" r="1.05" fill="#111"/><circle cx="358.4" cy="178.2" r="1.05" fill="#111"/>
<line x1="369.0" y1="204.4" x2="387.6" y2="204.4" stroke="#666" stroke-width="1.4"/>
<circle cx="376.8" cy="200.8" r="1.05" fill="#111"/><circle cx="379.8" cy="200.8" r="1.05" fill="#111"/>
<line x1="426.2" y1="182.2" x2="487.6" y2="182.2" stroke="#666" stroke-width="1.4"/>
<circle cx="455.4" cy="178.0" r="1.05" fill="#111"/><circle cx="458.4" cy="178.0" r="1.05" fill="#111"/>
<line x1="469.4" y1="204.5" x2="487.6" y2="204.5" stroke="#666" stroke-width="1.4"/>
<circle cx="477.0" cy="200.4" r="1.05" fill="#111"/><circle cx="480.0" cy="200.4" r="1.05" fill="#111"/>
<text x="481.9" y="302.5" font-size="7.9" text-anchor="start" fill="#3c3c3c" stroke="#3c3c3c" font-weight="normal" >n=5</text>
<circle cx="308.0" cy="297.7" r="2.1" fill="#cf0a26"/>
<circle cx="312.2" cy="297.7" r="2.1" fill="#cf0a26"/>
<circle cx="310.0" cy="298.6" r="2.1" fill="#cf0a26"/>
<circle cx="307.0" cy="300.8" r="2.1" fill="#cf0a26"/>
<circle cx="310.2" cy="300.8" r="2.1" fill="#cf0a26"/>
<circle cx="313.5" cy="300.8" r="2.1" fill="#cf0a26"/>
<line x1="320.40000000000003" y1="298.3" x2="330.8" y2="298.3" stroke="#111" stroke-width="1.1"/>
<circle cx="325.6" cy="292.5" r="2.1" fill="#0c4c8a"/>
<circle cx="324.1" cy="297.5" r="2.1" fill="#0c4c8a"/>
<circle cx="328.5" cy="297.5" r="2.1" fill="#0c4c8a"/>
<circle cx="322.7" cy="300.9" r="2.1" fill="#0c4c8a"/>
<circle cx="326.0" cy="300.9" r="2.1" fill="#0c4c8a"/>
<line x1="335.5" y1="300.6" x2="345.9" y2="300.6" stroke="#111" stroke-width="1.1"/>
<path d="M338.1 293.09999999999997L340.20000000000005 295.2L338.1 297.3L336.0 295.2Z" fill="#cf0a26"/>
<path d="M339.8 296.0L341.90000000000003 298.1L339.8 300.20000000000005L337.7 298.1Z" fill="#cf0a26"/>
<path d="M338.1 298.5L340.20000000000005 300.6L338.1 302.70000000000005L336.0 300.6Z" fill="#cf0a26"/>
<path d="M341.3 298.5L343.40000000000003 300.6L341.3 302.70000000000005L339.2 300.6Z" fill="#cf0a26"/>
<path d="M343.8 298.5L345.90000000000003 300.6L343.8 302.70000000000005L341.7 300.6Z" fill="#cf0a26"/>
<line x1="351.2" y1="298.4" x2="361.59999999999997" y2="298.4" stroke="#111" stroke-width="1.1"/>
<path d="M356.3 284.2L358.40000000000003 286.3L356.3 288.40000000000003L354.2 286.3Z" fill="#0c4c8a"/>
<path d="M359.2 293.09999999999997L361.3 295.2L359.2 297.3L357.09999999999997 295.2Z" fill="#0c4c8a"/>
<path d="M356.3 296.0L358.40000000000003 298.1L356.3 300.20000000000005L354.2 298.1Z" fill="#0c4c8a"/>
<path d="M353.6 298.9L355.70000000000005 301.0L353.6 303.1L351.5 301.0Z" fill="#0c4c8a"/>
<path d="M359.2 298.9L361.3 301.0L359.2 303.1L357.09999999999997 301.0Z" fill="#0c4c8a"/>
<line x1="366.40000000000003" y1="258.4" x2="376.8" y2="258.4" stroke="#111" stroke-width="1.1"/>
<path d="M368.9 251.85L371.15 255.79999999999998L366.65 255.79999999999998Z" fill="#cf0a26"/>
<path d="M374.4 254.54999999999998L376.65 258.5L372.15 258.5Z" fill="#cf0a26"/>
<path d="M368.9 257.45L371.15 261.40000000000003L366.65 261.40000000000003Z" fill="#cf0a26"/>
<path d="M374.4 261.04999999999995L376.65 265.0L372.15 265.0Z" fill="#cf0a26"/>
<path d="M368.9 262.95L371.15 266.90000000000003L366.65 266.90000000000003Z" fill="#cf0a26"/>
<line x1="381.8" y1="226.5" x2="392.2" y2="226.5" stroke="#111" stroke-width="1.1"/>
<path d="M387.0 214.45000000000002L389.25 218.4L384.75 218.4Z" fill="#0c4c8a"/>
<path d="M387.0 220.05L389.25 224.0L384.75 224.0Z" fill="#0c4c8a"/>
<path d="M387.0 224.95000000000002L389.25 228.9L384.75 228.9Z" fill="#0c4c8a"/>
<path d="M384.3 230.65L386.55 234.6L382.05 234.6Z" fill="#0c4c8a"/>
<path d="M389.6 230.65L391.85 234.6L387.35 234.6Z" fill="#0c4c8a"/>
<line x1="403.0" y1="300.5" x2="413.4" y2="300.5" stroke="#111" stroke-width="1.1"/>
<circle cx="405.8" cy="298.0" r="2.1" fill="#cf0a26"/>
<circle cx="408.0" cy="301.0" r="2.1" fill="#cf0a26"/>
<circle cx="412.0" cy="300.6" r="2.1" fill="#cf0a26"/>
<circle cx="405.6" cy="303.5" r="2.1" fill="#cf0a26"/>
<circle cx="409.6" cy="303.5" r="2.1" fill="#cf0a26"/>
<circle cx="410.0" cy="301.4" r="2.1" fill="#cf0a26"/>
<line x1="418.6" y1="298.1" x2="429.0" y2="298.1" stroke="#111" stroke-width="1.1"/>
<circle cx="424.0" cy="292.9" r="2.1" fill="#0c4c8a"/>
<circle cx="420.6" cy="298.1" r="2.1" fill="#0c4c8a"/>
<circle cx="424.0" cy="298.1" r="2.1" fill="#0c4c8a"/>
<circle cx="426.7" cy="301.0" r="2.1" fill="#0c4c8a"/>
<circle cx="420.9" cy="303.0" r="2.1" fill="#0c4c8a"/>
<line x1="434.1" y1="298.0" x2="444.5" y2="298.0" stroke="#111" stroke-width="1.1"/>
<path d="M438.1 295.2L440.20000000000005 297.3L438.1 299.40000000000003L436.0 297.3Z" fill="#cf0a26"/>
<path d="M440.5 295.2L442.6 297.3L440.5 299.40000000000003L438.4 297.3Z" fill="#cf0a26"/>
<path d="M436.5 298.79999999999995L438.6 300.9L436.5 303.0L434.4 300.9Z" fill="#cf0a26"/>
<path d="M442.2 298.79999999999995L444.3 300.9L442.2 303.0L440.09999999999997 300.9Z" fill="#cf0a26"/>
<path d="M439.3 296.2L441.40000000000003 298.3L439.3 300.40000000000003L437.2 298.3Z" fill="#cf0a26"/>
<line x1="449.5" y1="298.0" x2="459.9" y2="298.0" stroke="#111" stroke-width="1.1"/>
<path d="M454.7 290.5L456.8 292.6L454.7 294.70000000000005L452.59999999999997 292.6Z" fill="#0c4c8a"/>
<path d="M453.9 295.2L456.0 297.3L453.9 299.40000000000003L451.79999999999995 297.3Z" fill="#0c4c8a"/>
<path d="M456.4 295.2L458.5 297.3L456.4 299.40000000000003L454.29999999999995 297.3Z" fill="#0c4c8a"/>
<path d="M458.4 295.9L460.5 298.0L458.4 300.1L456.29999999999995 298.0Z" fill="#0c4c8a"/>
<path d="M451.9 299.0L454.0 301.1L451.9 303.20000000000005L449.79999999999995 301.1Z" fill="#0c4c8a"/>
<line x1="464.90000000000003" y1="255.3" x2="475.3" y2="255.3" stroke="#111" stroke-width="1.1"/>
<path d="M470.1 241.15L472.35 245.1L467.85 245.1Z" fill="#cf0a26"/>
<path d="M470.1 249.05L472.35 253.0L467.85 253.0Z" fill="#cf0a26"/>
<path d="M470.1 254.35L472.35 258.3L467.85 258.3Z" fill="#cf0a26"/>
<path d="M472.8 262.25L475.05 266.20000000000005L470.55 266.20000000000005Z" fill="#cf0a26"/>
<path d="M467.4 264.95L469.65 268.90000000000003L465.15 268.90000000000003Z" fill="#cf0a26"/>
<line x1="480.40000000000003" y1="218.5" x2="490.8" y2="218.5" stroke="#111" stroke-width="1.1"/>
<path d="M482.8 207.75L485.05 211.7L480.55 211.7Z" fill="#0c4c8a"/>
<path d="M488.2 209.25L490.45 213.2L485.95 213.2Z" fill="#0c4c8a"/>
<path d="M485.2 217.15L487.45 221.1L482.95 221.1Z" fill="#0c4c8a"/>
<path d="M485.2 227.65L487.45 231.6L482.95 231.6Z" fill="#0c4c8a"/>
<path d="M485.2 236.05L487.45 240.0L482.95 240.0Z" fill="#0c4c8a"/>
<rect x="0.5" y="0.5" width="519" height="369" fill="none" stroke="#000" stroke-width="1.2"/>
</svg>
</body></html>
